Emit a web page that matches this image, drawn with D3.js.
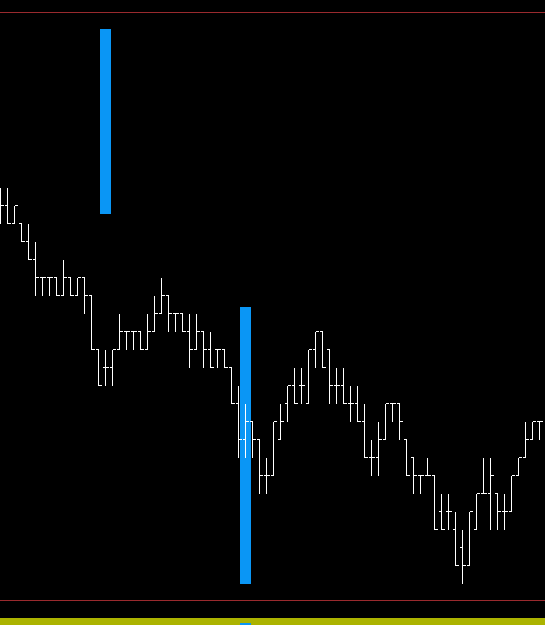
<!DOCTYPE html>
<html>
<head>
<meta charset="utf-8">
<script src="https://cdn.jsdelivr.net/npm/d3@7/dist/d3.min.js"></script>
<style>
  html, body { margin: 0; padding: 0; background: #000; }
  svg { display: block; }
</style>
</head>
<body>
<div id="chart"></div>
<script>
// precio por barra (unidades de punto)
const openV  = [99,99,98,98,97,96,95,95,95,94,95,94,95,94,91,90,90,91,92,92,92,91,92,93,94,93,93,92,91,92,91,91,91,90,88,86,87,86,84,84,86,88,89,89,88,91,92,91,89,89,88,88,87,85,85,86,88,88,86,85,84,84,84,82,82,81,80,79,81,83,83,83,82,82,84,85,86,87];
const highV  = [100,100,99,98,98,97,95,95,95,96,95,95,95,94,91,91,91,93,92,92,92,93,94,95,94,93,93,93,93,92,92,91,91,90,89,88,87,86,85,87,88,89,90,90,91,92,92,91,90,90,89,89,88,86,87,88,88,88,86,85,84,85,84,83,83,82,81,82,83,85,85,83,83,84,85,87,87,87];
const lowV   = [98,98,98,97,96,94,94,94,94,94,94,94,93,91,89,89,89,91,91,91,91,91,92,93,92,92,92,90,91,90,90,90,90,88,85,85,85,83,83,84,86,87,88,88,88,90,90,88,88,88,87,87,85,84,84,86,87,86,84,83,83,84,81,81,81,79,78,79,81,83,81,81,81,82,84,85,86,86];
const closeV = [99,98,99,97,96,95,95,95,94,95,94,95,94,91,89,90,91,92,92,92,91,92,93,94,93,93,92,91,92,91,90,91,90,88,86,87,86,84,84,87,87,89,88,89,91,92,90,89,89,88,88,87,85,85,86,88,88,87,84,84,84,84,81,81,82,79,79,82,83,83,84,82,82,84,85,86,87,87];

// señales (histograma azul)
const senalIndice = [15, 35];
const senalTope   = [108.8, 93.35];
const senalBase   = [98.5, 77.95];

const width = 545;
const height = 625;

const datos = openV.map((o, i) => ({
  i: i,
  open: o,
  high: highV[i],
  low: lowV[i],
  close: closeV[i]
}));

const senales = senalIndice.map((idx, j) => ({
  i: idx,
  top: senalTope[j],
  base: senalBase[j]
}));

const x = d3.scaleLinear().domain([0, 78]).range([0, 546]);
const y = d3.scaleLinear().domain([77, 110]).range([601, 7]);

const svg = d3.select("#chart")
  .append("svg")
  .attr("width", width)
  .attr("height", height)
  .attr("viewBox", [0, 0, width, height])
  .style("shape-rendering", "crispEdges");

svg.append("rect")
  .attr("width", width)
  .attr("height", height)
  .attr("fill", "#000");

// separadores rojos
svg.append("line")
  .attr("x1", 0).attr("x2", width)
  .attr("y1", 12.5).attr("y2", 12.5)
  .attr("stroke", "#9a2a2e");

svg.append("line")
  .attr("x1", 0).attr("x2", width)
  .attr("y1", 600.5).attr("y2", 600.5)
  .attr("stroke", "#9a2a2e");

// subventana inferior
svg.append("rect")
  .attr("x", 0).attr("y", 618)
  .attr("width", width).attr("height", 7)
  .attr("fill", "#abb300");

svg.selectAll("rect.marca")
  .data(senales.slice(1))
  .join("rect")
  .attr("class", "marca")
  .attr("x", d => Math.round(x(d.i)) - 5)
  .attr("y", 623)
  .attr("width", 11)
  .attr("height", 2)
  .attr("fill", "#0a96f5");

// barras azules
svg.selectAll("rect.senal")
  .data(senales)
  .join("rect")
  .attr("class", "senal")
  .attr("x", d => Math.round(x(d.i)) - 5)
  .attr("y", d => Math.round(y(d.top)))
  .attr("width", 11)
  .attr("height", d => Math.round(y(d.base)) - Math.round(y(d.top)))
  .attr("fill", "#0a96f5");

// barras OHLC
const barras = svg.append("g")
  .attr("stroke", "#fff")
  .attr("stroke-width", 1)
  .selectAll("g")
  .data(datos)
  .join("g")
  .attr("transform", d => `translate(${Math.round(x(d.i)) + 0.5},0.5)`);

barras.append("line")
  .attr("x1", 0).attr("x2", 0)
  .attr("y1", d => Math.round(y(d.high)))
  .attr("y2", d => Math.round(y(d.low)));

barras.append("line")
  .attr("x1", -3).attr("x2", 0)
  .attr("y1", d => Math.round(y(d.open)))
  .attr("y2", d => Math.round(y(d.open)));

barras.append("line")
  .attr("x1", 0).attr("x2", 3)
  .attr("y1", d => Math.round(y(d.close)))
  .attr("y2", d => Math.round(y(d.close)));
</script>
</body>
</html>
